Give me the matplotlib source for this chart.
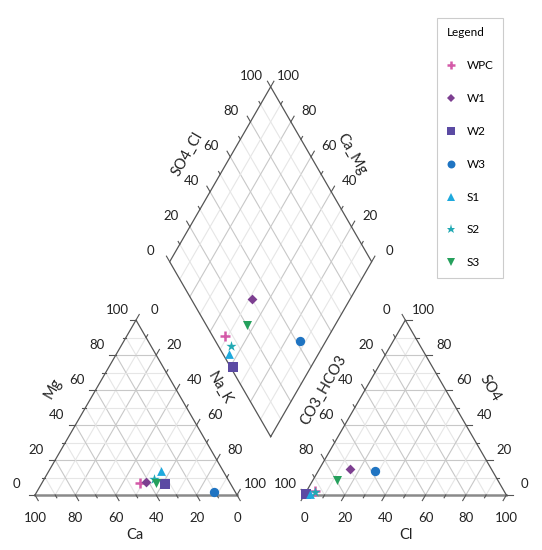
import numpy as np
import matplotlib.pyplot as plt
from matplotlib.lines import Line2D

plt.rcParams['font.family'] = ['Lato', 'DejaVu Sans']

# sample composition (percent of meq)
samples = ['WPC', 'W1', 'W2', 'W3', 'S1', 'S2', 'S3']
ca = [44.7, 41.4, 32.5, 10.6, 30.8, 36.4, 36.9]
mg = [6.7, 7.3, 6.3, 1.9, 13.7, 9.2, 6.7]
na_k = [48.6, 51.3, 61.2, 87.5, 55.5, 54.4, 56.4]
hco3 = [93.8, 70.0, 98.8, 58.0, 97.0, 94.0, 79.5]
so4 = [2.0, 15.0, 0.5, 13.7, 0.5, 1.5, 8.4]
cl = [4.2, 15.0, 0.7, 28.3, 2.5, 4.5, 12.1]

markers = ['+', 'D', 's', 'o', '^', '*', 'v']
colors = ['#d45aa8', '#7d3f91', '#5b4aa3', '#1f74c2', '#1ea9dd', '#22a9b3', '#25a05c']
sizes = [45, 25, 55, 45, 40, 60, 42]
lws = [1.8, 0, 0, 0, 0, 0, 0]

ticks = np.arange(0, 101, 10)

h = np.sqrt(3) / 2
g = 1 / 3
ox = 1 + g


def left_xy(c, m, n):
    s = c + m + n
    return n / s + m / s / 2, m / s * h


def right_xy(a, s4, c):
    s = a + s4 + c
    return ox + c / s + s4 / s / 2, s4 / s * h


def dia_xy(cm, sc):
    return 1 + g / 2 + 0.5 * (sc - cm), g * h + h * (sc + cm)


fig = plt.figure(figsize=(5.42, 5.50), dpi=100)
ax = fig.add_axes([0, 0, 1, 1])
ax.set_xlim(-0.1733, 2.5099)
ax.set_ylim(-0.2723, 2.4505)
ax.axis('off')

edge_c = '#555555'
tick_c = '#222222'


def gl(p, q, v):
    col = '#c8c8c8' if v % 20 == 0 else '#e6e6e6'
    ax.plot([p[0], q[0]], [p[1], q[1]], color=col, lw=0.8, zorder=1)


for v in ticks[1:-1] / 100:
    # cation triangle
    gl(left_xy(1 - v, v, 0), left_xy(0, v, 1 - v), v * 100)
    gl(left_xy(1 - v, 0, v), left_xy(0, 1 - v, v), v * 100)
    gl(left_xy(v, 1 - v, 0), left_xy(v, 0, 1 - v), v * 100)
    # anion triangle
    gl(right_xy(1 - v, v, 0), right_xy(0, v, 1 - v), v * 100)
    gl(right_xy(1 - v, 0, v), right_xy(0, 1 - v, v), v * 100)
    gl(right_xy(v, 1 - v, 0), right_xy(v, 0, 1 - v), v * 100)
    # diamond
    gl(dia_xy(0, v), dia_xy(1, v), v * 100)
    gl(dia_xy(v, 0), dia_xy(v, 1), v * 100)

# outlines
L = [left_xy(1, 0, 0), left_xy(0, 0, 1), left_xy(0, 1, 0)]
R = [right_xy(1, 0, 0), right_xy(0, 0, 1), right_xy(0, 1, 0)]
D = [dia_xy(0, 0), dia_xy(0, 1), dia_xy(1, 1), dia_xy(1, 0), dia_xy(0, 0)]
for T in (L, R):
    ax.plot([T[0][0], T[1][0]], [T[0][1], T[1][1]], color='#8a8a8a', lw=1.8, zorder=2)
    ax.plot([T[1][0], T[2][0], T[0][0]], [T[1][1], T[2][1], T[0][1]], color=edge_c, lw=0.9, zorder=2)
ax.plot([p[0] for p in D], [p[1] for p in D], color=edge_c, lw=0.9, zorder=2)


def axis_ticks(pts, direction, labels, off, ha='center'):
    d = np.array(direction) / np.hypot(*direction)
    for (x, y), v in zip(pts, labels):
        ln = 0.032 if v % 20 == 0 else 0.016
        ax.plot([x, x + d[0] * ln], [y, y + d[1] * ln], color=edge_c, lw=0.8, zorder=2)
        if v % 20 == 0:
            ax.text(x + off[0], y + off[1], str(v), ha=ha, va='center',
                    fontsize=9.5, color=tick_c)


lo = (-0.094, 0.052)
ro = (0.09, 0.052)
bo = (0, -0.114)
f = ticks / 100
# cation triangle
axis_ticks([left_xy(1 - t, t, 0) for t in f], (-1, 0), ticks, lo)
axis_ticks([left_xy(t, 0, 1 - t) for t in f], (0.5, -h), ticks, bo)
axis_ticks([left_xy(0, 1 - t, t) for t in f], (0.5, h), ticks, ro)
# anion triangle
axis_ticks([right_xy(t, 1 - t, 0) for t in f], (-0.5, h), ticks, lo)
axis_ticks([right_xy(1 - t, 0, t) for t in f], (-0.5, -h), ticks, bo)
axis_ticks([right_xy(0, t, 1 - t) for t in f], (1, 0), ticks, ro)
# diamond
axis_ticks([dia_xy(1, t) for t in f], (-0.5, h), ticks, lo)
axis_ticks([dia_xy(t, 1) for t in f], (0.5, h), ticks, ro)

# axis titles
tk = dict(fontsize=10.5, color=tick_c, ha='center', va='center')
ax.text(0.0906, 0.528, 'Mg', rotation=60, **tk)
ax.text(0.495, -0.198, 'Ca', **tk)
ax.text(0.916, 0.528, 'Na_K', rotation=-60, **tk)
ax.text(1.427, 0.520, 'CO3_HCO3', rotation=60, **tk)
ax.text(2.252, 0.528, 'SO4', rotation=-60, **tk)
ax.text(1.837, -0.198, 'Cl', **tk)
ax.text(0.752, 1.688, 'SO4_Cl', rotation=60, **tk)
ax.text(1.569, 1.688, 'Ca_Mg', rotation=-60, **tk)

# samples
handles = []
for i, name in enumerate(samples):
    sty = dict(marker=markers[i], s=sizes[i], color=colors[i], linewidths=lws[i], zorder=5)
    x1, y1 = left_xy(ca[i], mg[i], na_k[i])
    x2, y2 = right_xy(hco3[i], so4[i], cl[i])
    tot_c = ca[i] + mg[i] + na_k[i]
    tot_a = hco3[i] + so4[i] + cl[i]
    x3, y3 = dia_xy((ca[i] + mg[i]) / tot_c, (so4[i] + cl[i]) / tot_a)
    ax.scatter([x1, x2, x3], [y1, y2, y3], **sty)
    handles.append(Line2D([], [], ls='none', marker=markers[i], color=colors[i],
                          markeredgewidth=lws[i], markersize=np.sqrt(sizes[i]) * 0.85,
                          label=name))

leg = ax.legend(handles=handles, title='Legend', loc='upper left',
                bbox_to_anchor=(437 / 542, 1 - 18 / 550), bbox_transform=fig.transFigure,
                fontsize=8.5, title_fontsize=8.5, labelspacing=1.85, handlelength=0.8,
                handletextpad=0.9, borderpad=0.8, fancybox=False, frameon=True,
                borderaxespad=0)
leg.get_frame().set_edgecolor('#c0c0c0')
leg.get_frame().set_linewidth(0.8)
leg._legend_box.align = 'left'

fig.savefig('out.png', dpi=100)
